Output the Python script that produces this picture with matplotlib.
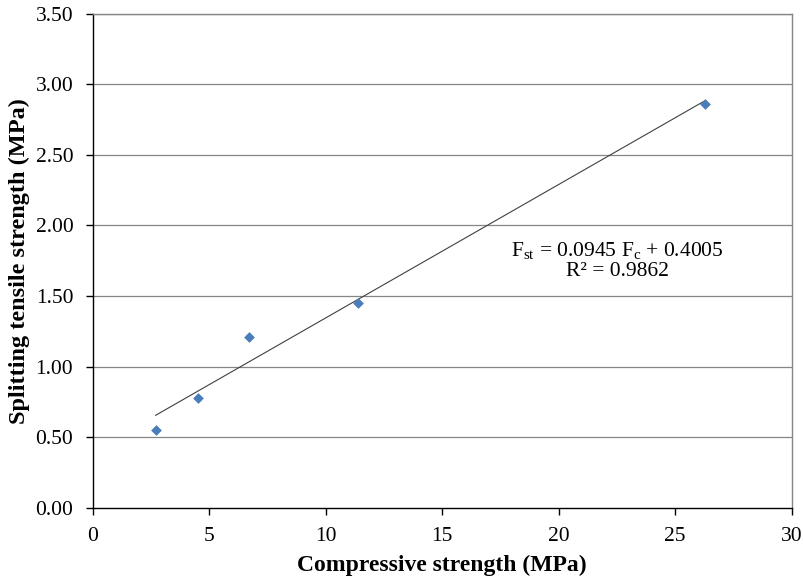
import matplotlib
matplotlib.use("Agg")
import matplotlib.pyplot as plt
import numpy as np

# Data
compressive = [2.7, 4.5, 6.7, 11.4, 26.3]
tensile = [0.55, 0.78, 1.21, 1.45, 2.86]
slope = 0.0945
intercept = 0.4005
r2 = 0.9862
x_ticks = [0, 5, 10, 15, 20, 25, 30]
y_ticks = [0.0, 0.5, 1.0, 1.5, 2.0, 2.5, 3.0, 3.5]

plt.rcParams['font.family'] = ['Liberation Serif', 'DejaVu Serif']
plt.rcParams['mathtext.fontset'] = 'custom'
plt.rcParams['mathtext.rm'] = 'Liberation Serif'
plt.rcParams['mathtext.it'] = 'Liberation Serif:italic'
plt.rcParams['mathtext.bf'] = 'Liberation Serif:bold'

fig = plt.figure(figsize=(8.04, 5.8), dpi=100)
ax = fig.add_axes([0.1153, 0.1243, 0.8694, 0.8521])

for yv in y_ticks[1:]:
    ax.axhline(yv, color='#868686', lw=0.9, zorder=1)

xs = np.array([min(compressive), max(compressive)])
ax.plot(xs, slope * xs + intercept, color='#404040', lw=0.8, zorder=2)
ax.scatter(compressive, tensile, marker='D', s=30, color='#4A7EBB', zorder=3, linewidths=0)

ax.set_xlim(0, 30)
ax.set_ylim(0, 3.5)
ax.set_xticks(x_ticks)
ax.set_yticks(y_ticks)
ax.set_xticklabels([str(v) for v in x_ticks])
ax.set_yticklabels([f"{v:.2f}" for v in y_ticks])
ax.tick_params(direction='out', length=5, width=1, labelsize=15.5, colors='black')
ax.tick_params(axis='x', pad=9)
ax.tick_params(axis='y', pad=9)

ax.spines['left'].set_color('black')
ax.spines['bottom'].set_color('black')
ax.spines['top'].set_color('#868686')
ax.spines['right'].set_color('#868686')
for s in ax.spines.values():
    s.set_linewidth(1.0)

ax.set_xlabel('Compressive strength (MPa)', fontsize=17, fontweight='bold', labelpad=6)
ax.set_ylabel('Splitting tensile strength (MPa)', fontsize=17.5, fontweight='bold', labelpad=4)

ax.text(22.5, 1.75, r'F$_{\mathrm{st}}$ = ' + f'{slope} ' + r'F$_{\mathrm{c}}$ + ' + f'{intercept}' + '\n' + f'R² = {r2}',
        ha='center', va='center', fontsize=15.5, linespacing=1.1)

fig.savefig('out.png', dpi=100)
